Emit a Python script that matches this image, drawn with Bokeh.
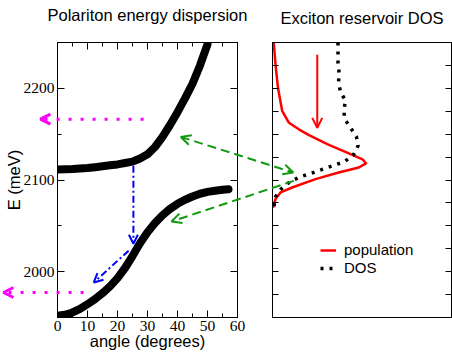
from bokeh.plotting import figure
from bokeh.models import (Range1d, LinearAxis, SingleIntervalTicker, Arrow, OpenHead,
                          Legend, Label)
from bokeh.layouts import row
from bokeh.embed import file_html
from bokeh.resources import INLINE

# ---------------- data ----------------
# Upper / lower polariton branches: angle (degrees) -> energy (meV)
up_angle = [0, 2.5, 5, 7.5, 10, 12.5, 15, 17.5, 20, 22.5, 25, 27.5, 30, 32.5, 35,
            37.5, 40, 42.5, 45, 47.5, 50]
up_energy = [2111.5, 2111.7, 2112, 2112.5, 2113, 2114, 2115, 2116, 2117, 2118.5, 2120,
             2123.5, 2128, 2136, 2147, 2160, 2174, 2189, 2205, 2225, 2248]
lp_angle = [0, 2.5, 5, 7.5, 10, 12.5, 15, 17.5, 20, 22.5, 25, 27.5, 30, 32.5, 35,
            37.5, 40, 42.5, 45, 47.5, 50, 52.5, 55, 57]
lp_energy = [1952, 1953, 1955.5, 1959.5, 1964.5, 1970, 1976.5, 1984, 1993, 2004, 2017,
             2031, 2043, 2053, 2061.5, 2068.5, 2074, 2078.5, 2082, 2085, 2087, 2088.3,
             2089.3, 2090]

# Exciton reservoir: population and DOS (arbitrary units) vs energy (meV)
pop_value = [0.007, 0.017, 0.031, 0.054, 0.092, 0.147, 0.201, 0.306, 0.436, 0.503,
             0.522, 0.482, 0.370, 0.240, 0.110, 0.045, 0.017, 0.003]
pop_energy = [2250, 2225.7, 2200, 2175.5, 2162.4, 2155.3, 2149.3, 2139.2, 2128.3,
              2122.6, 2118.2, 2113.6, 2108.2, 2101.0, 2091.8, 2086.4, 2079.2, 2069.7]
dos_value = [0.366, 0.366, 0.372, 0.369, 0.380, 0.408, 0.399, 0.402, 0.436, 0.469,
             0.478, 0.453, 0.402, 0.342, 0.279, 0.218, 0.156, 0.101, 0.049, 0.017, 0.007]
dos_energy = [2250, 2227.9, 2217.0, 2206.0, 2196.2, 2186.4, 2176.6, 2166.8, 2157.0,
              2147.1, 2137.3, 2127.5, 2119.9, 2116.0, 2111.7, 2107.3, 2103.5, 2098.6,
              2090.4, 2081.7, 2069.7]

# Annotation arrows (left panel: degrees / meV, right panel: arb. units / meV)
magenta_up = [(28.7, 2166.4), (-5.7, 2166.4)]
magenta_low = [(8.7, 1977.3), (-18.0, 1977.3)]
blue_1 = [(25.3, 2115.5), (25.3, 2030.4)]
blue_2 = [(23.7, 2022.8), (12.1, 1988.2)]
red_arrow = [(0.25, 2236.6), (0.25, 2156.9)]
green_1_left, green_1_right = (41.1, 2147.0), (0.116, 2108.2)
green_2_left, green_2_right = (38.0, 2054.7), (0.119, 2099.1)

# Panel titles
left_title = "Polariton energy dispersion"
right_title = "Exciton reservoir DOS"

angle_ticks = 10
energy_ticks = 100
dos_energy_ticks = 25

# ---------------- layout constants ----------------
SANS = "Liberation Sans"
SERIF = "Liberation Serif"
H = 355
BT, BB = 42, 38
FH = H - BT - BB
L_BL, L_FW, L_BR = 57, 180, 18
R_BL, R_FW, R_BR = 17, 179, 1
W1 = L_BL + L_FW + L_BR
W2 = R_BL + R_FW + R_BR
X0, X1 = 0, 60
Y0, Y1 = 1950, 2250
V0, V1 = 0, 1
LEFT_TITLE_BASELINE, RIGHT_TITLE_BASELINE = 14.5, 17.5   # canvas px from top
PLACE = {"position": "absolute", "left": "0px", "top": "0px"}


def inner_axis(ax, major_in, minor_in, labels=True):
    ax.major_tick_in = major_in
    ax.major_tick_out = 0
    ax.minor_tick_in = minor_in
    ax.minor_tick_out = 0
    ax.axis_line_color = "black"
    ax.major_tick_line_color = "black"
    ax.minor_tick_line_color = "black" if minor_in else None
    if labels:
        ax.major_label_text_font = SERIF
        ax.major_label_text_font_size = "15.5px"
        ax.major_label_text_line_height = 1.0
        ax.major_label_text_color = "black"
        ax.major_label_standoff = 3
    else:
        ax.major_label_text_font_size = "0px"
        ax.major_label_text_line_height = 0
        ax.major_label_text_color = None
        ax.major_label_standoff = 0


def no_grid(p):
    for g in p.grid:
        g.visible = False
    for r in p.center:
        if r.__class__.__name__ == "Grid":
            r.visible = False


# ---------------- left panel ----------------
pl = figure(width=W1, height=H, x_range=Range1d(X0, X1), y_range=Range1d(Y0, Y1),
            min_border_left=L_BL, min_border_right=L_BR, min_border_top=BT,
            min_border_bottom=BB, toolbar_location=None, output_backend="svg")
no_grid(pl)
pl.outline_line_color = "black"
pl.background_fill_color = "white"
pl.border_fill_color = "white"

pl.xaxis.ticker = SingleIntervalTicker(interval=angle_ticks, num_minor_ticks=2)
pl.yaxis.ticker = SingleIntervalTicker(interval=energy_ticks, num_minor_ticks=2)
inner_axis(pl.xaxis[0], 7, 4)
inner_axis(pl.yaxis[0], 7, 4)
for ax, lbl in ((pl.xaxis[0], "angle (degrees)"), (pl.yaxis[0], "E (meV)")):
    ax.axis_label = lbl
    ax.axis_label_text_font = SANS
    ax.axis_label_text_font_size = "16.5px"
    ax.axis_label_text_font_style = "normal"
    ax.axis_label_text_line_height = 1.0
    ax.axis_label_text_color = "black"
    ax.axis_label_standoff = -2

top_ax = LinearAxis(ticker=SingleIntervalTicker(interval=angle_ticks, num_minor_ticks=2))
inner_axis(top_ax, 7, 4, labels=False)
pl.add_layout(top_ax, "above")
right_ax = LinearAxis(ticker=SingleIntervalTicker(interval=energy_ticks, num_minor_ticks=2))
inner_axis(right_ax, 7, 4, labels=False)
pl.add_layout(right_ax, "right")

pl.line(up_angle, up_energy, line_color="black", line_width=8, line_cap="round",
        line_join="round")
pl.line(lp_angle, lp_energy, line_color="black", line_width=8, line_cap="round",
        line_join="round")

for (xs, ys), (xe, ye) in (blue_1, blue_2):
    pl.add_layout(Arrow(x_start=xs, y_start=ys, x_end=xe, y_end=ye,
                        line_color="blue", line_width=2, line_dash="7 3 2 3",
                        end=OpenHead(size=9, line_color="blue", line_width=2)))

# ---------------- right panel ----------------
pr = figure(width=W2, height=H, x_range=Range1d(V0, V1), y_range=Range1d(Y0, Y1),
            min_border_left=R_BL, min_border_right=R_BR, min_border_top=BT,
            min_border_bottom=BB, toolbar_location=None, output_backend="svg",
            x_axis_location=None, y_axis_location="left")
no_grid(pr)
pr.outline_line_color = "black"
pr.background_fill_color = "white"
pr.border_fill_color = "white"
pr.yaxis.ticker = SingleIntervalTicker(interval=dos_energy_ticks, num_minor_ticks=0)
inner_axis(pr.yaxis[0], 6, 0, labels=False)
r_ax = LinearAxis(ticker=SingleIntervalTicker(interval=dos_energy_ticks, num_minor_ticks=0))
inner_axis(r_ax, 6, 0, labels=False)
pr.add_layout(r_ax, "right")

r_pop = pr.line(pop_value, pop_energy, line_color="red", line_width=2.5,
                line_join="round")
r_dos = pr.line(dos_value, dos_energy, line_color="black", line_width=3.5,
                line_dash="3 6")
(rxs, rys), (rxe, rye) = red_arrow
pr.add_layout(Arrow(x_start=rxs, y_start=rys, x_end=rxe, y_end=rye, line_color="red",
                    line_width=2, end=OpenHead(size=10, line_color="red", line_width=2)))

legend = Legend(items=[("population", [r_pop]), ("DOS", [r_dos])], location=(48, 41),
                padding=0, margin=0, spacing=1, glyph_width=16, glyph_height=16,
                label_height=16, label_standoff=8, border_line_color=None,
                background_fill_alpha=0, label_text_font=SANS,
                label_text_font_size="15px", label_text_color="black")
pr.add_layout(legend)

# ---------------- transparent overlay (titles + arrows crossing the panels) ------------
deg_per_px = (X1 - X0) / L_FW
mev_per_px = (Y1 - Y0) / FH


def canvas_to_deg(px):
    return X0 + (px - L_BL) * deg_per_px


def canvas_to_mev(py):
    return Y1 - (py - BT) * mev_per_px


def v_to_deg(v):
    px = W1 + R_BL + (v - V0) / (V1 - V0) * R_FW
    return canvas_to_deg(px)


po = figure(width=W1 + W2, height=H,
            x_range=Range1d(canvas_to_deg(0), canvas_to_deg(W1 + W2)),
            y_range=Range1d(canvas_to_mev(H), canvas_to_mev(0)),
            min_border_left=0, min_border_right=0, min_border_top=0, min_border_bottom=0,
            x_axis_location=None, y_axis_location=None, toolbar_location=None,
            output_backend="svg", background_fill_color=None, border_fill_color=None,
            outline_line_color=None)
no_grid(po)

for txt, xc, base in ((left_title, (X0 + X1) / 2, LEFT_TITLE_BASELINE),
                      (right_title, v_to_deg((V0 + V1) / 2), RIGHT_TITLE_BASELINE)):
    po.add_layout(Label(x=xc, y=canvas_to_mev(base), text=txt, text_align="center",
                        text_baseline="alphabetic", text_font=SANS,
                        text_font_size="16.5px", text_color="black"))

for (xs, ys), (xe, ye) in (magenta_up, magenta_low):
    po.add_layout(Arrow(x_start=xs, y_start=ys, x_end=xe, y_end=ye,
                        line_color="magenta", line_width=3, line_dash="3 9",
                        end=OpenHead(size=10, line_color="magenta", line_width=3)))

g_color = "#119911"
po.add_layout(Arrow(x_start=green_1_left[0], y_start=green_1_left[1],
                    x_end=v_to_deg(green_1_right[0]), y_end=green_1_right[1],
                    line_color=g_color, line_width=2, line_dash="9 5",
                    start=OpenHead(size=10, line_color=g_color, line_width=2),
                    end=OpenHead(size=10, line_color=g_color, line_width=2)))
po.add_layout(Arrow(x_start=v_to_deg(green_2_right[0]), y_start=green_2_right[1],
                    x_end=green_2_left[0], y_end=green_2_left[1],
                    line_color=g_color, line_width=2, line_dash="9 5",
                    end=OpenHead(size=10, line_color=g_color, line_width=2)))

layout = row(pl, pr)
layout.styles = dict(PLACE)
po.styles = dict(PLACE)
open("out.html", "w").write(file_html([layout, po], INLINE))
